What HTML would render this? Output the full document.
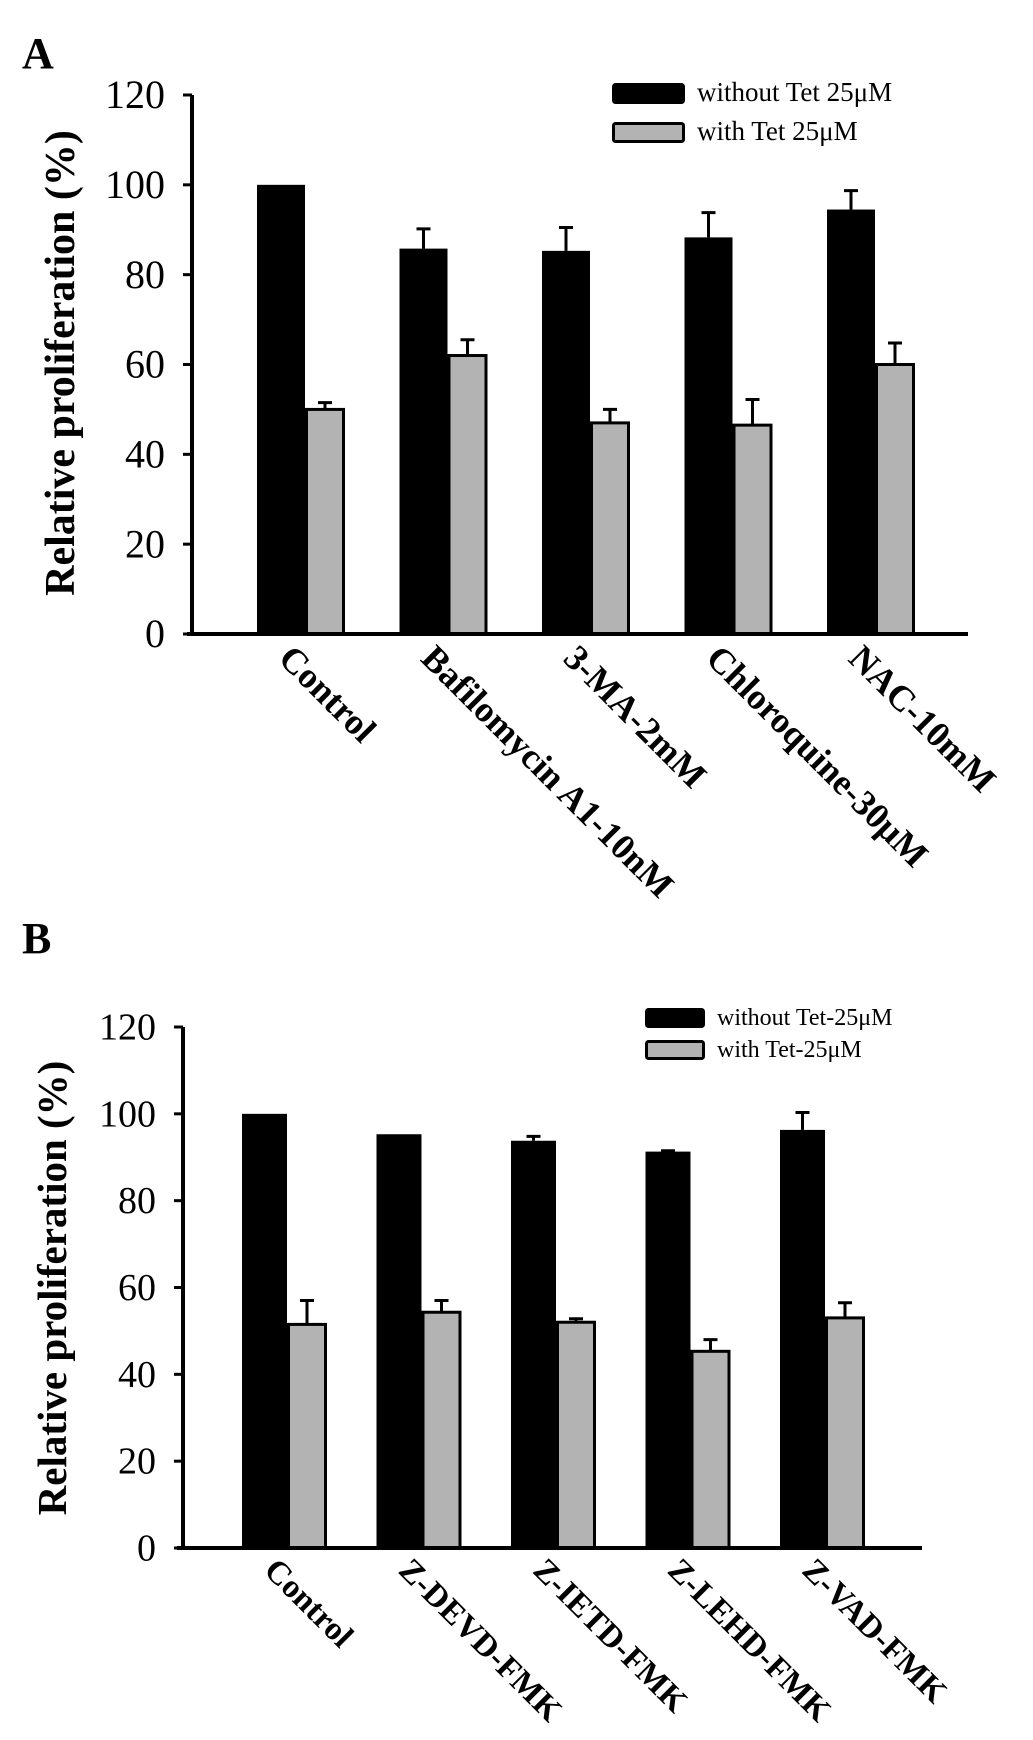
<!DOCTYPE html>
<html><head><meta charset="utf-8">
<style>
html,body{margin:0;padding:0;background:#fff;overflow:hidden;}
svg{display:block;font-family:"Liberation Serif",serif;}
</style></head>
<body>
<svg id="fig" width="1033" height="1740" viewBox="0 0 1033 1740" xmlns="http://www.w3.org/2000/svg">
<text x="22" y="68" font-size="44" font-weight="bold">A</text>
<text x="22" y="953" font-size="44" font-weight="bold">B</text>
</svg>
<script>
const catsA = ["Control","Bafilomycin A1-10nM","3-MA-2mM","Chloroquine-30\u03BCM","NAC-10mM"];
const blackA = [100, 85.8, 85.3, 88.3, 94.5];
const blackErrA = [0, 4.4, 5.2, 5.5, 4.2];
const grayA = [50, 62, 47, 46.5, 60];
const grayErrA = [1.5, 3.5, 3, 5.7, 4.8];
const catsB = ["Control","Z-DEVD-FMK","Z-IETD-FMK","Z-LEHD-FMK","Z-VAD-FMK"];
const blackB = [100, 95.3, 93.8, 91.3, 96.3];
const blackErrB = [0, 0, 1, 0.2, 4];
const grayB = [51.5, 54.3, 52, 45.3, 53];
const grayErrB = [5.5, 2.7, 0.8, 2.7, 3.5];
const yTicks = [0, 20, 40, 60, 80, 100, 120];

const NS = "http://www.w3.org/2000/svg";
const svg = document.getElementById("fig");
function mk(tag, attrs, parent){const e=document.createElementNS(NS,tag);for(const k in attrs)e.setAttribute(k,attrs[k]);(parent||svg).appendChild(e);return e;}

function chart(p){
  const g = mk("g",{});
  
  
  const y = v => p.y0 - (v/120)*(p.y0-p.y120);
  const gx = i => p.g0 + i*p.step;
  p.cats.forEach((c,i)=>{
    const bx = gx(i);
    const b = mk("rect",{x:bx,y:y(p.black[i]),width:p.bw,height:p.y0-y(p.black[i]),fill:"#000"},g);
    
    
    if(p.blackErr[i]>0){
      const e = mk("path",{d:`M${bx+p.bw/2} ${y(p.black[i])} V${y(p.black[i]+p.blackErr[i])} M${bx+p.bw/2-7} ${y(p.black[i]+p.blackErr[i])} H${bx+p.bw/2+7}`,stroke:"#000","stroke-width":3,fill:"none"},g);
      
      
    }
    const gx2 = bx+p.bw;
    const gr = mk("rect",{x:gx2+1.5,y:y(p.gray[i]),width:p.gw-3,height:p.y0-y(p.gray[i]),fill:"#b3b3b3",stroke:"#000","stroke-width":3},g);
    
    
    const e2 = mk("path",{d:`M${gx2+p.gw/2} ${y(p.gray[i])} V${y(p.gray[i]+p.grayErr[i])} M${gx2+p.gw/2-7} ${y(p.gray[i]+p.grayErr[i])} H${gx2+p.gw/2+7}`,stroke:"#000","stroke-width":3,fill:"none"},g);
    
    
    const cx = bx + (p.bw+p.gw)/2 - 6;
    const t = mk("text",{x:0,y:0,transform:`translate(${cx},${p.y0+8}) rotate(45)`,"font-size":p.xfs,"font-weight":"bold","dominant-baseline":"hanging"},g);
    t.textContent = c;
    
    
  });
  const ax = mk("path",{d:`M${p.ax} ${p.y120} V${p.y0} M${p.axL} ${p.y0} H${p.axR}`,stroke:"#000","stroke-width":4,fill:"none"},g);
  
  
  yTicks.forEach(v=>{
    const tk = mk("line",{x1:p.ax-9,x2:p.ax,y1:y(v),y2:y(v),stroke:"#000","stroke-width":3},g);
    
    
    const tl = mk("text",{x:p.ax-27,y:y(v)+p.tfs*0.33,"text-anchor":"end","font-size":p.tfs},g);
    tl.textContent = v;
    
    
  });
  const yt = mk("text",{x:0,y:0,transform:`translate(${p.titleX},${p.titleY}) rotate(-90)`,"text-anchor":"middle","font-size":p.titleFs,"font-weight":"bold"},g);
  yt.textContent = "Relative proliferation (%)";
  
  
  [[p.legBlackY,"#000",p.leg[0]],[p.legGrayY,"#b3b3b3",p.leg[1]]].forEach((L,k)=>{
    const r = mk("rect",{x:p.legX+1.5,y:L[0]+1.5,width:p.legW-3,height:p.legH-3,fill:L[1],stroke:"#000","stroke-width":3,rx:2},g);
    
    
    const lt = mk("text",{x:p.legX+p.legW+12,y:L[0]+p.legH*0.85,"font-size":p.legFs},g);
    lt.textContent = L[2];
    
    
  });
}

chart({id:"panel-a",cats:catsA,black:blackA,blackErr:blackErrA,gray:grayA,grayErr:grayErrA,
  y0:634,y120:95,g0:257,step:142.5,bw:48,gw:40,ax:192,axL:187,axR:968,xfs:36,tfs:40,
  titleX:74,titleY:363,titleFs:42,legX:612,legW:73,legH:21,legBlackY:83,legGrayY:122,legFs:27,
  leg:["without Tet 25\u03BCM","with Tet 25\u03BCM"]});
chart({id:"panel-b",cats:catsB,black:blackB,blackErr:blackErrB,gray:grayB,grayErr:grayErrB,
  y0:1548,y120:1027,g0:242,step:134.5,bw:45,gw:40,ax:183,axL:177,axR:922,xfs:33,tfs:38,
  titleX:66,titleY:1288,titleFs:41,legX:645,legW:60,legH:20,legBlackY:1008,legGrayY:1040,legFs:24,
  leg:["without Tet-25\u03BCM","with Tet-25\u03BCM"]});
</script>
</body></html>
